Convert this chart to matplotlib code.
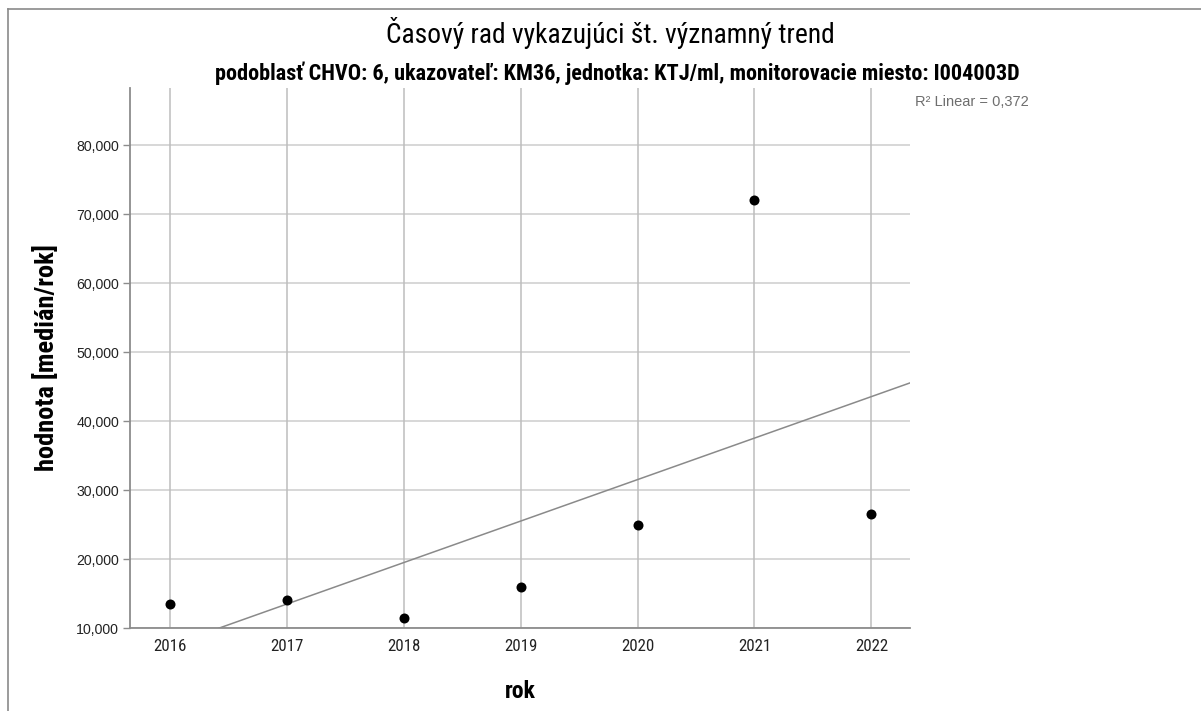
import matplotlib
matplotlib.use("Agg")
import matplotlib.pyplot as plt
from matplotlib.lines import Line2D
from matplotlib.ticker import FuncFormatter
from matplotlib import font_manager
import numpy as np

years = [2016, 2017, 2018, 2019, 2020, 2021, 2022]
values = [13.5, 14.0, 11.5, 16.0, 25.0, 72.0, 26.5]
y_ticks = [10, 20, 30, 40, 50, 60, 70, 80]
title = "Časový rad vykazujúci št. významný trend"
subtitle = "podoblasť CHVO: 6, ukazovateľ: KM36, jednotka: KTJ/ml, monitorovacie miesto: I004003D"
r2_label = "R² Linear = 0,372"

available = {f.name for f in font_manager.fontManager.ttflist}
narrow_name = None
for cand in ["Liberation Sans Narrow", "Arial Narrow", "Roboto Condensed", "DejaVu Sans Condensed",
             "Open Sans Condensed"]:
    if cand in available:
        narrow_name = cand
        break
narrow = ([narrow_name] if narrow_name else []) + ["Liberation Sans", "DejaVu Sans"]
k = 1.0 if narrow_name else 0.84   # shrink when no narrow font
sans = ["Liberation Sans", "DejaVu Sans"]

W, H = 1201, 711
fig = plt.figure(figsize=(W / 100, H / 100), dpi=100)
fig.patch.set_facecolor("white")

left, right, bottom, top = 130, 910, 628, 88
ax = fig.add_axes([left / W, 1 - bottom / H, (right - left) / W, (bottom - top) / H])

ax.set_xlim(2015.66, 2022.33)
ax.set_ylim(10, 88.3)

for yv in y_ticks:
    ax.axhline(yv, color="#d4d4d4", lw=1.3, zorder=1)
for xv in years:
    ax.axvline(xv, color="#bdbdbd", lw=1.1, zorder=1)

x = np.array(years, dtype=float)
y = np.array(values, dtype=float)
slope, intercept = np.polyfit(x, y, 1)
xl = np.array(ax.get_xlim())
ax.plot(xl, slope * xl + intercept, color="#8a8a8a", lw=1.1, zorder=2, clip_on=True)

ax.scatter(years, values, s=52, color="black", zorder=3, linewidths=0)

for s in ["top", "right"]:
    ax.spines[s].set_visible(False)
for s in ["left", "bottom"]:
    ax.spines[s].set_color("#8c8c8c")
    ax.spines[s].set_linewidth(1.3)

ax.set_yticks(y_ticks)
ax.yaxis.set_major_formatter(FuncFormatter(lambda v, p: f"{v:.3f}".replace(".", ",")))
ax.set_xticks(years)
ax.set_xticklabels([str(v) for v in years])
ax.tick_params(axis="y", length=5, width=1, color="#8c8c8c", pad=3, labelsize=10.2, labelcolor="#222222")
ax.tick_params(axis="x", length=0, pad=8, labelsize=12.2 * k, labelcolor="#222222")
for lab in ax.get_yticklabels():
    lab.set_family(sans)
for lab in ax.get_xticklabels():
    lab.set_family(narrow)

ax.set_xlabel("rok", fontsize=17 * k, fontweight="bold", family=narrow, labelpad=19)
ax.set_ylabel("hodnota [medián/rok]", fontsize=19 * k, fontweight="bold", family=narrow, labelpad=12)

fig.text(610 / W, 1 - 33 / H, title, ha="center", va="center", fontsize=19.8 * k, family=narrow,
         color="black")
fig.text(617 / W, 1 - 73 / H, subtitle, ha="center", va="center", fontsize=16 * k, fontweight="bold",
         family=narrow, color="black")
fig.text(915 / W, 1 - 102 / H, r2_label, ha="left", va="center", fontsize=10.5, family=sans, color="#6e6e6e")

fig.add_artist(Line2D([8 / W, 1], [1 - 9 / H, 1 - 9 / H], color="#8a8a8a", lw=1.2, transform=fig.transFigure))
fig.add_artist(Line2D([8 / W, 8 / W], [0, 1 - 9 / H], color="#8a8a8a", lw=1.2, transform=fig.transFigure))

fig.savefig("out.png", dpi=100, facecolor="white")
